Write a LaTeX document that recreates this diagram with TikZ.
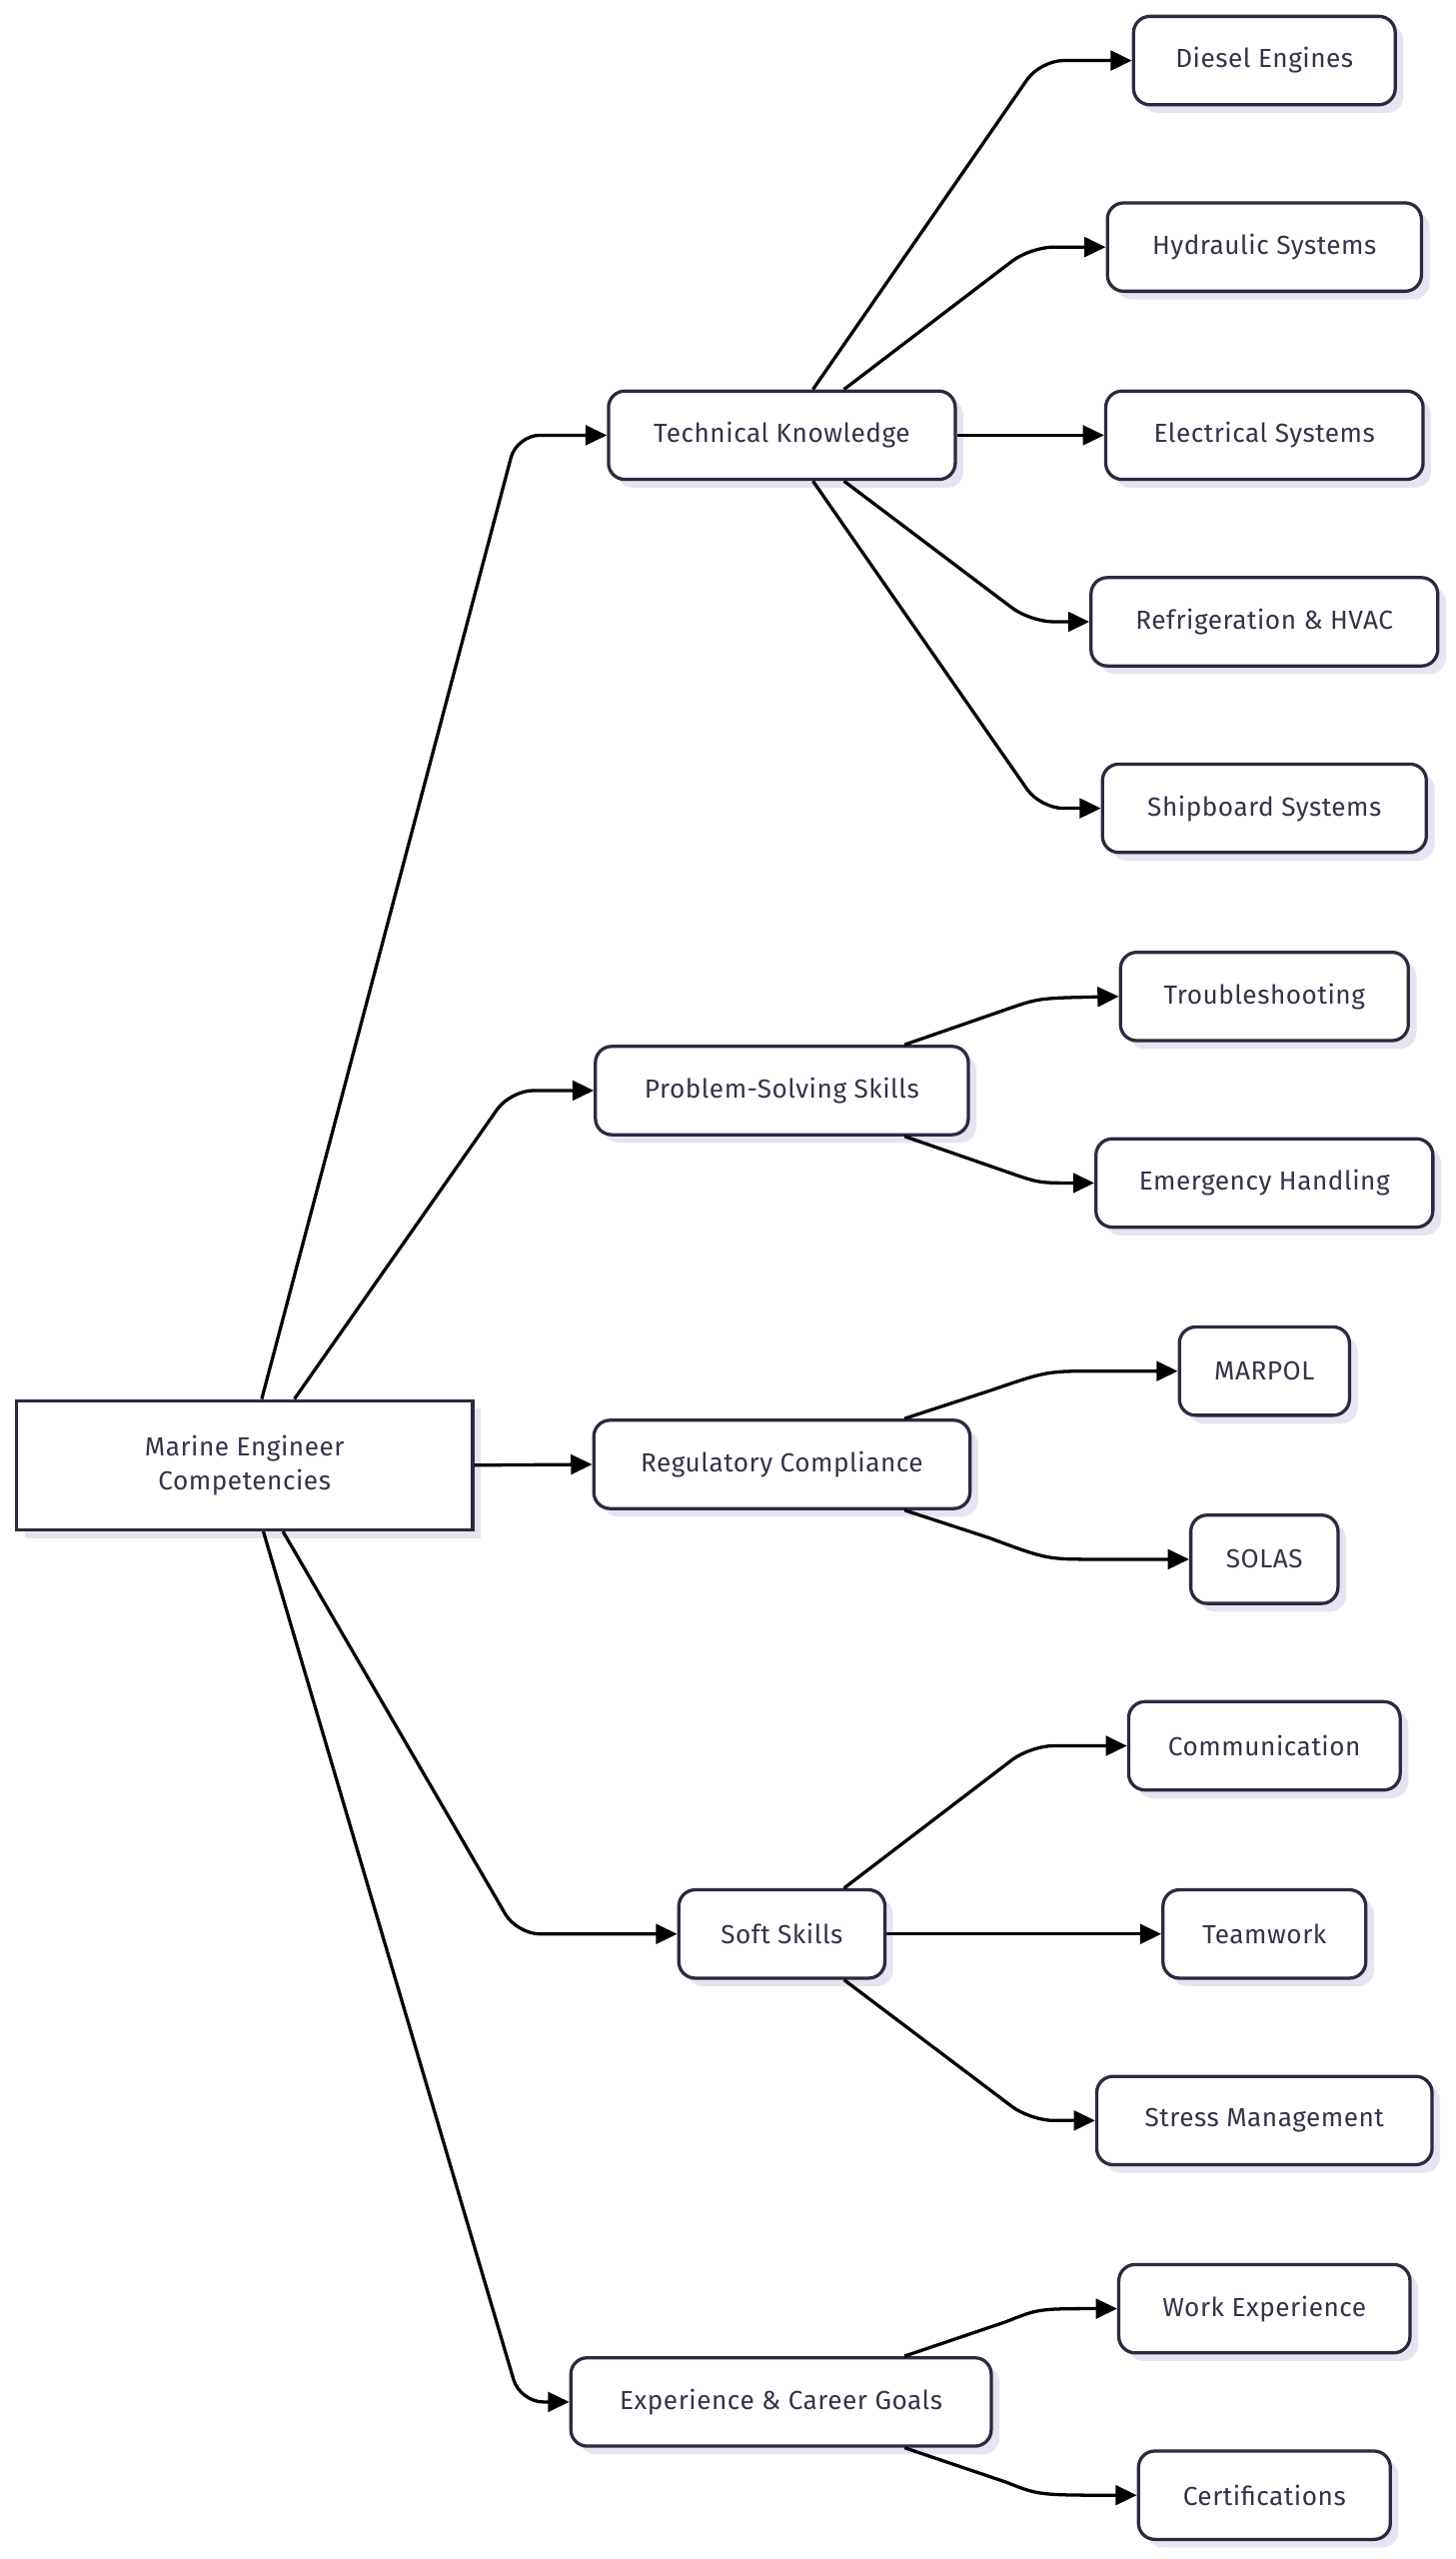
\documentclass[tikz,border=0pt]{standalone}
\usepackage{fontspec}
\setmainfont{Fira Sans}
\usetikzlibrary{arrows.meta,shadows}
\definecolor{bd}{HTML}{2B2A40}
\definecolor{tx}{HTML}{33334A}
\definecolor{sh}{HTML}{E6E4F0}
\begin{document}
\begin{tikzpicture}[x=1pt,y=-1pt,
 box/.style={draw=bd,line width=2pt,fill=white,rounded corners=10pt,minimum height=54pt,text=tx,font=\fontsize{16}{19}\selectfont\addfontfeature{LetterSpace=2},inner sep=0pt,
   drop shadow={shadow xshift=5pt,shadow yshift=-5pt,fill=sh,opacity=1}},
 con/.style={draw=black,line width=2pt,rounded corners=14pt,-{Triangle[length=13pt,width=12pt]}}]
\useasboundingbox (0,0) rectangle (890,1564);
\node[box,rounded corners=0pt,minimum width=279pt,minimum height=79pt,align=center] (root) at (149.5,895.5) {Marine Engineer\\[2pt]Competencies};
\node[box,minimum width=212pt] (tk) at (478,266) {Technical Knowledge};
\node[box,minimum width=228pt] (ps) at (478,666.5) {Problem-Solving Skills};
\node[box,minimum width=230pt] (rc) at (478,895) {Regulatory Compliance};
\node[box,minimum width=126pt] (ss) at (478,1182) {Soft Skills};
\node[box,minimum width=257pt] (ex) at (477.5,1468) {Experience \& Career Goals};
\node[box,minimum width=160pt] (de) at (773,37) {Diesel Engines};
\node[box,minimum width=192pt] (hy) at (773,151) {Hydraulic Systems};
\node[box,minimum width=194pt] (el) at (773,266) {Electrical Systems};
\node[box,minimum width=212pt] (rf) at (773,380) {Refrigeration \& HVAC};
\node[box,minimum width=198pt] (sb) at (773,494) {Shipboard Systems};
\node[box,minimum width=176pt] (tr) at (773,609) {Troubleshooting};
\node[box,minimum width=206pt] (em) at (773,723) {Emergency Handling};
\node[box,minimum width=104pt] (ma) at (773,838) {MARPOL};
\node[box,minimum width=90pt] (so) at (773,953) {SOLAS};
\node[box,minimum width=166pt] (co) at (773,1067) {Communication};
\node[box,minimum width=124pt] (tw) at (773,1182) {Teamwork};
\node[box,minimum width=205pt] (st) at (773,1296) {Stress Management};
\node[box,minimum width=178pt] (we) at (773,1411) {Work Experience};
\node[box,minimum width=154pt] (ce) at (773,1525) {Certifications};
% root
\draw[con] ([xshift=10.5pt]root.north) -- (316,266) -- (tk.west);
\draw[con] ([xshift=30.5pt]root.north) -- (312,666.5) -- (ps.west);
\draw[con] (root.east) -- (rc.west);
\draw[con] ([xshift=23.5pt]root.south) -- (316,1182) -- (ss.west);
\draw[con] ([xshift=11.5pt]root.south) -- (318,1468) -- (ex.west);
% technical
\draw[con] ([xshift=19pt]tk.north) -- (636,37) -- (de.west);
\draw[con] ([xshift=38pt]tk.north) -- (630,151) -- (hy.west);
\draw[con] (tk.east) -- (el.west);
\draw[con] ([xshift=38pt]tk.south) -- (630,380) -- (rf.west);
\draw[con] ([xshift=19pt]tk.south) -- (636,494) -- (sb.west);
% problem
\draw[con,rounded corners=0pt] ([xshift=75pt]ps.north) -- (615,617) .. controls (635,610) .. (tr.west);
\draw[con,rounded corners=0pt] ([xshift=75pt]ps.south) -- (615,716) .. controls (635,723) .. (em.west);
% regulatory
\draw[con,rounded corners=0pt] ([xshift=75pt]rc.north) -- (605,850) .. controls (640,838) .. (670,838) -- (ma.west);
\draw[con,rounded corners=0pt] ([xshift=75pt]rc.south) -- (605,940) .. controls (640,953) .. (670,953) -- (so.west);
% soft
\draw[con] ([xshift=38pt]ss.north) -- (630,1067) -- (co.west);
\draw[con] (ss.east) -- (tw.west);
\draw[con] ([xshift=38pt]ss.south) -- (630,1296) -- (st.west);
% experience
\draw[con,rounded corners=0pt] ([xshift=75.5pt]ex.north) -- (615,1419) .. controls (635,1411) .. (we.west);
\draw[con,rounded corners=0pt] ([xshift=75.5pt]ex.south) -- (615,1517) .. controls (635,1525) .. (ce.west);
\end{tikzpicture}
\end{document}
